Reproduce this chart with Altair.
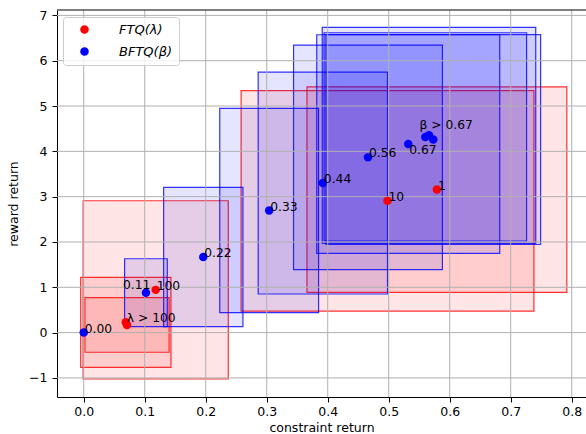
import altair as alt
import pandas as pd

# FTQ(λ): mean (constraint, reward) returns and their standard deviations
ftq_labels = ["λ > 100", "", "100", "10", "1"]
ftq_constraint = [0.069, 0.071, 0.118, 0.498, 0.579]
ftq_reward = [0.227, 0.168, 0.943, 2.907, 3.156]
ftq_constraint_std = [0.074, 0.069, 0.119, 0.240, 0.213]
ftq_reward_std = [0.993, 0.602, 1.967, 2.435, 2.267]

# BFTQ(β): mean (constraint, reward) returns and their standard deviations
bftq_labels = ["0.00", "0.11", "0.22", "0.33", "0.44", "0.56", "0.67", "β > 0.67", "", ""]
bftq_constraint = [0.0, 0.102, 0.196, 0.304, 0.392, 0.466, 0.532, 0.566, 0.560, 0.573]
bftq_reward = [0.0, 0.88, 1.668, 2.694, 3.301, 3.867, 4.161, 4.353, 4.319, 4.259]
bftq_constraint_std = [0.0, 0.035, 0.065, 0.081, 0.106, 0.122, 0.150, 0.175, 0.166, 0.176]
bftq_reward_std = [0.0, 0.75, 1.538, 2.255, 2.449, 2.479, 2.412, 2.383, 2.298, 2.315]

series_names = ["FTQ(λ)", "BFTQ(β)"]
series_colors = ["red", "blue"]

x_ticks = [0.0, 0.1, 0.2, 0.3, 0.4, 0.5, 0.6, 0.7, 0.8]
y_ticks = [-1, 0, 1, 2, 3, 4, 5, 6, 7]

FONT = "DejaVu Sans"
W, H = 529, 387

ftq = pd.DataFrame({
    "series": series_names[0], "label": ftq_labels,
    "c": ftq_constraint, "r": ftq_reward,
    "cs": ftq_constraint_std, "rs": ftq_reward_std,
})
bftq = pd.DataFrame({
    "series": series_names[1], "label": bftq_labels,
    "c": bftq_constraint, "r": bftq_reward,
    "cs": bftq_constraint_std, "rs": bftq_reward_std,
})
runs = pd.concat([ftq, bftq], ignore_index=True)

x_scale = alt.Scale(domain=[-0.0438, 0.8234], nice=False, zero=False)
y_scale = alt.Scale(domain=[-1.421, 7.119], nice=False, zero=False)

x_axis = alt.Axis(values=x_ticks, format=".1f", grid=False, title="constraint return",
                  tickSize=5, labelPadding=3, titlePadding=4)
y_axis = alt.Axis(values=y_ticks, format="d", grid=False, title="reward return",
                  tickSize=5, labelPadding=5, titlePadding=8)

X = alt.X("c:Q", scale=x_scale, axis=x_axis)
Y = alt.Y("r:Q", scale=y_scale, axis=y_axis)


def boxes(df, color):
    # one-standard-deviation rectangle around each mean return
    return alt.Chart(df).transform_calculate(
        c0="datum.c - datum.cs", c1="datum.c + datum.cs",
        r0="datum.r - datum.rs", r1="datum.r + datum.rs",
    ).mark_rect(
        fill=color, fillOpacity=0.1, stroke=color, strokeOpacity=0.8, strokeWidth=1.2
    ).encode(
        x=alt.X("c0:Q", scale=x_scale, axis=x_axis),
        x2="c1:Q",
        y=alt.Y("r0:Q", scale=y_scale, axis=y_axis),
        y2="r1:Q",
    )


grid_x = alt.Chart(pd.DataFrame({"c": x_ticks})).mark_rule(
    color="#b0b0b0", strokeWidth=1
).encode(x=X)
grid_y = alt.Chart(pd.DataFrame({"r": y_ticks})).mark_rule(
    color="#b0b0b0", strokeWidth=1
).encode(y=Y)
top_spine = alt.Chart(pd.DataFrame({"r": [y_ticks[0]]})).mark_rule(
    color="black", strokeWidth=1
).encode(y=alt.value(0), x=alt.value(0), x2=alt.value(W))

points = alt.Chart(runs).mark_circle(size=72, opacity=1).encode(
    x=X, y=Y,
    color=alt.Color(
        "series:N",
        scale=alt.Scale(domain=series_names, range=series_colors),
        sort=series_names,
        legend=alt.Legend(
            orient="none", legendX=6, legendY=7, title=None,
            symbolType="circle", symbolSize=72, symbolStrokeWidth=0,
            symbolOffset=9, labelOffset=28, padding=6, rowPadding=8,
            labelFont=FONT, labelFontSize=13, labelFontStyle="italic",
            labelColor="black", strokeColor="#cccccc",
            fillColor="rgba(255,255,255,0.8)", cornerRadius=3,
        ),
    ),
)


def labels(df, dx=0, dy=0):
    return alt.Chart(df).mark_text(
        align="left", baseline="alphabetic", font=FONT, fontSize=12.3,
        color="black", dx=dx, dy=dy,
    ).encode(x=X, y=Y, text="label:N")


shifted = ["0.11", "0.67", "β > 0.67", ""]
plain_labels = labels(runs[~runs["label"].isin(shifted)], dx=1)
label_011 = labels(runs[runs["label"] == "0.11"], dx=-23, dy=-4)
label_067 = labels(runs[runs["label"] == "0.67"], dx=1, dy=9.5)
label_beta = labels(runs[runs["label"] == "β > 0.67"], dx=-9.5, dy=-6)

chart = alt.layer(
    boxes(ftq, "red"), boxes(bftq, "blue"),
    grid_x, grid_y, top_spine,
    points, plain_labels, label_011, label_067, label_beta,
).properties(
    width=W, height=H,
    autosize=alt.AutoSizeParams(type="none"),
    padding={"left": 57, "top": 10, "right": 0, "bottom": 37},
    background="white",
).configure_view(
    stroke=None
).configure_axis(
    labelFont=FONT, labelFontSize=12.5, labelColor="black",
    titleFont=FONT, titleFontSize=12.5, titleFontWeight="normal", titleColor="black",
    tickColor="black", tickWidth=1, domainColor="black", domainWidth=1,
)

chart.save("out.html", embed_options={"renderer": "svg", "actions": False})
